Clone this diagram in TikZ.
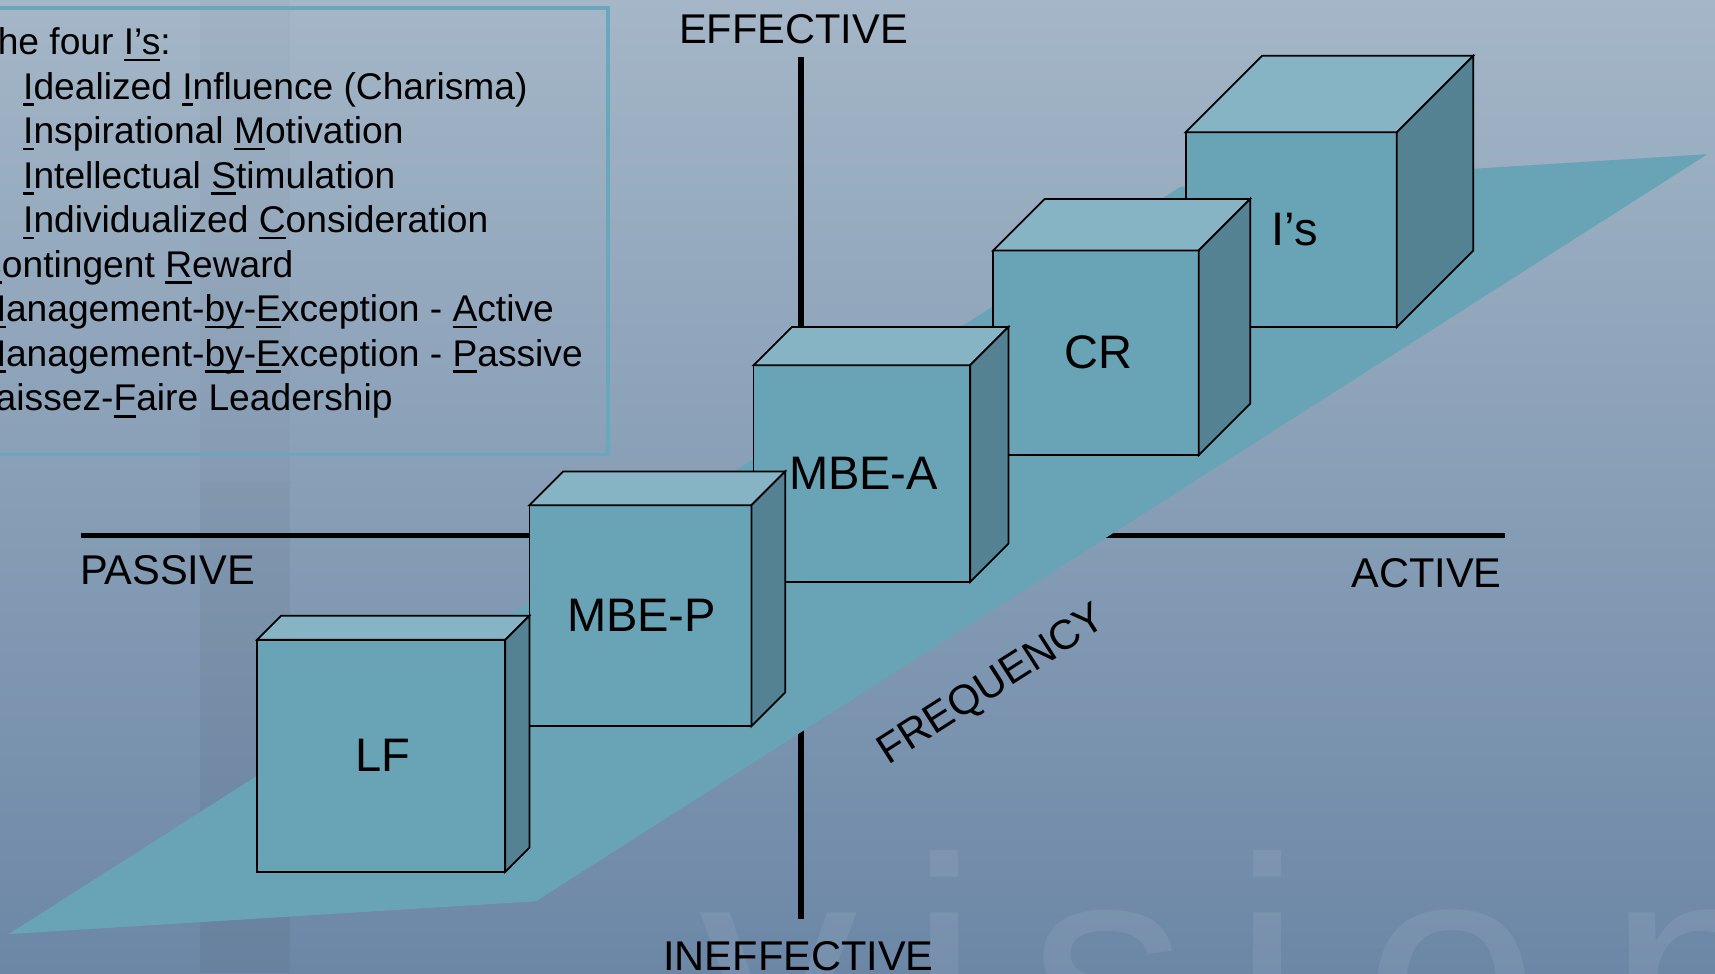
\documentclass[tikz,border=0pt]{standalone}
\usepackage{fontspec}
\setmainfont{Liberation Sans}
\usepackage{xcolor}
\usepackage{tikz}
\usetikzlibrary{positioning}

\definecolor{bgtop}{HTML}{A4B6C7}
\definecolor{bgmid}{HTML}{97ACC3}
\definecolor{bgbot}{HTML}{6C87A6}
\definecolor{cubefront}{HTML}{68A3B6}
\definecolor{cubetop}{HTML}{86B4C4}
\definecolor{cubeside}{HTML}{548292}
\definecolor{boxline}{HTML}{6AA6BC}

% underline that keeps to one height, also under descenders
\newcommand{\undl}[1]{\setbox0\hbox{#1}\rlap{\rule[-0.18em]{\wd0}{0.075em}}\box0}

\begin{document}
\begin{tikzpicture}[
  x=1pt, y=-1pt,
  facefront/.style={draw=black, line width=1.6pt, fill=cubefront, inner sep=0pt, outer sep=0pt,
    anchor=north west, font=\fontsize{43}{50}\selectfont},
  facetop/.style={draw=black, line width=1.6pt, fill=cubetop},
  faceside/.style={draw=black, line width=1.6pt, fill=cubeside},
  plane/.style={fill=cubefront},
  axisline/.style={line width=5pt, black},
  axislabel/.style={inner sep=0pt, font=\fontsize{38}{45}\selectfont},
  listline/.style={inner sep=0pt, anchor=base west, font=\fontsize{34}{40}\selectfont},
  listbox/.style={draw=boxline, line width=3.5pt},
  watermark/.style={inner sep=0pt, anchor=base, text=white, text opacity=0.075, font=\fontsize{290}{290}\selectfont}
]
  \useasboundingbox (0,0) rectangle (1568,890);
  \clip (0,0) rectangle (1568,890);

  % backdrop
  \shade[top color=bgtop, middle color=bgmid, bottom color=bgbot] (0,0) rectangle (1568,890);
  \fill[black, opacity=0.02] (183,0) rectangle (265,440);
  \fill[black, opacity=0.045] (183,440) rectangle (265,890);
  \foreach \ch/\cx in {v/712, i/864, s/1013, i/1159, o/1327, n/1550}
    \node[watermark] (w\cx) at (\cx,988) {\ch};

  % legend
  \draw[listbox] (-10,7) rectangle (556,415.5);
  \foreach \n/\ind/\t in {
      0/0/{The four \undl{I’s}:},
      1/1/{\undl{I}dealized \undl{I}nfluence (Charisma)},
      2/1/{\undl{I}nspirational \undl{M}otivation},
      3/1/{\undl{I}ntellectual \undl{S}timulation},
      4/1/{\undl{I}ndividualized \undl{C}onsideration},
      5/0/{\undl{C}ontingent \undl{R}eward},
      6/0/{\undl{M}anagement-\undl{by}-\undl{E}xception - \undl{A}ctive},
      7/0/{\undl{M}anagement-\undl{by}-\undl{E}xception - \undl{P}assive},
      8/0/{\undl{L}aissez-\undl{F}aire Leadership}}
    \node[listline] (line\n) at ({-23+44*\ind},{50+40.7*\n}) {\t};

  % axes
  \coordinate (effTop) at (732.5,52);
  \coordinate (effBot) at (732.5,840);
  \coordinate (pasEnd) at (74.5,489.5);
  \coordinate (actEnd) at (1376,489.5);
  \draw[axisline] (effTop) -- (effBot);
  \draw[axisline] (pasEnd) -- (actEnd);

  % frequency plane
  \fill[plane] (8,854) -- (490,824) -- (1561,141) -- (1079,171) -- cycle;

  % boxes, back to front
  \foreach \nm/\x/\y/\w/\h/\d/\txt in {
      Is/1084/121/193/178/70/{\hspace*{6pt}I’s},
      CR/908/229/188/187/47/{\hspace*{4pt}CR},
      MBEA/689/334/198/198/35/{\hspace*{3pt}MBE-A},
      MBEP/484/462/203/202/31/{\hspace*{2pt}MBE-P},
      LF/235/585/227/212/22/{\hspace*{3pt}LF}}{
    \node[facefront, minimum width=\w pt, minimum height=\h pt] (\nm) at (\x,\y) {\txt};
    \filldraw[facetop] (\nm.north west) -- ++(\d,-\d) -- ++(\w,0) -- (\nm.north east) -- cycle;
    \filldraw[faceside] (\nm.north east) -- ++(\d,-\d) -- ++(0,\h) -- (\nm.south east) -- cycle;
  }

  % labels
  \node[axislabel, anchor=base] (eff) at (725.5,40) {EFFECTIVE};
  \node[axislabel, anchor=base] (ineff) at (730,887.5) {INEFFECTIVE};
  \node[axislabel, anchor=base west] (pas) at (73,534) {PASSIVE};
  \node[axislabel, anchor=base east] (act) at (1373,537) {ACTIVE};
  \node[axislabel, anchor=base, rotate=32.5] (freq) at (912.7,635.4) {FREQUENCY};
\end{tikzpicture}
\end{document}
